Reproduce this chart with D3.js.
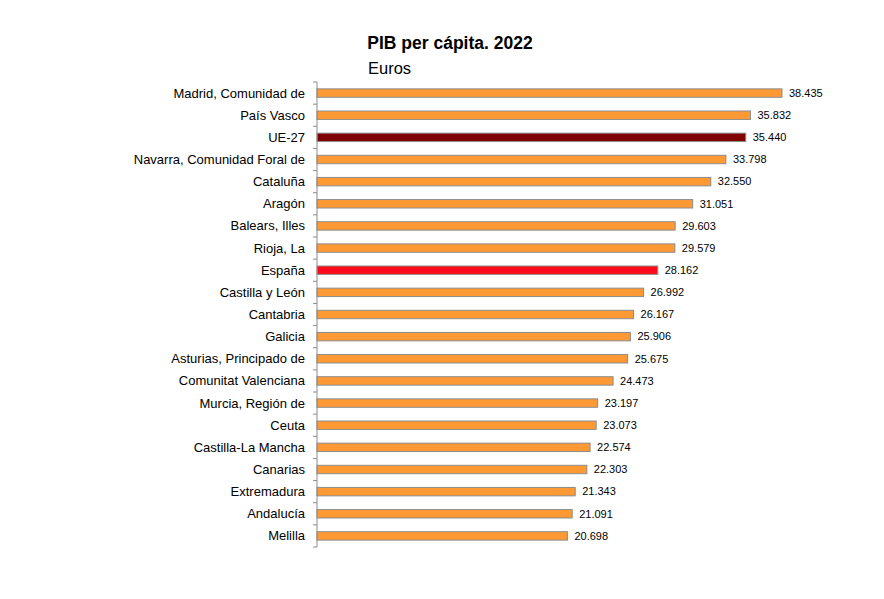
<!DOCTYPE html>
<html>
<head>
<meta charset="utf-8">
<script src="https://cdn.jsdelivr.net/npm/d3@7"></script>
<style>
  body { margin: 0; background: #fff; }
  text { font-family: "Liberation Sans", Arial, sans-serif; fill: #000; }
</style>
</head>
<body>
<div id="chart"></div>
<script>
// data
const regions = ["Madrid, Comunidad de", "País Vasco", "UE-27", "Navarra, Comunidad Foral de", "Cataluña",
  "Aragón", "Balears, Illes", "Rioja, La", "España", "Castilla y León", "Cantabria", "Galicia",
  "Asturias, Principado de", "Comunitat Valenciana", "Murcia, Región de", "Ceuta", "Castilla-La Mancha",
  "Canarias", "Extremadura", "Andalucía", "Melilla"];
const pib = [38435, 35832, 35440, 33798, 32550, 31051, 29603, 29579, 28162, 26992, 26167, 25906,
  25675, 24473, 23197, 23073, 22574, 22303, 21343, 21091, 20698];

const W = 884, H = 599;
const margin = { top: 82, left: 317, right: 102, bottom: 52 };

const svg = d3.select("#chart").append("svg")
  .attr("width", W)
  .attr("height", H);

const x = d3.scaleLinear()
  .domain([0, d3.max(pib)])
  .range([margin.left, W - margin.right]);

const y = d3.scaleBand()
  .domain(regions)
  .range([margin.top, H - margin.bottom])
  .paddingInner(0.62)
  .paddingOuter(0.31);

const fillFor = d => d === "UE-27" ? "#800000" : d === "España" ? "#ff0a1a" : "#ff9933";

// bars
svg.selectAll(".bar")
  .data(regions)
  .enter().append("rect")
  .attr("class", "bar")
  .attr("x", x(0))
  .attr("y", d => y(d))
  .attr("width", (d, i) => x(pib[i]) - x(0))
  .attr("height", y.bandwidth())
  .attr("fill", fillFor)
  .attr("stroke", "#8c8c8c")
  .attr("stroke-width", 1);

// value labels
const fmt = v => d3.format(",")(v).replace(/,/g, ".");
svg.selectAll(".val")
  .data(regions)
  .enter().append("text")
  .attr("class", "val")
  .attr("x", (d, i) => x(pib[i]) + 7)
  .attr("y", d => y(d) + y.bandwidth() / 2)
  .attr("dy", "0.35em")
  .style("font-size", "11px")
  .text((d, i) => fmt(pib[i]));

// category axis: line plus ticks between categories
const step = y.step();
const bounds = d3.range(regions.length + 1).map(i => margin.top + i * step);
svg.append("line")
  .attr("x1", x(0)).attr("x2", x(0))
  .attr("y1", margin.top).attr("y2", H - margin.bottom)
  .attr("stroke", "#8c8c8c");
svg.selectAll(".tick")
  .data(bounds)
  .enter().append("line")
  .attr("x1", x(0) - 4).attr("x2", x(0))
  .attr("y1", d => d).attr("y2", d => d)
  .attr("stroke", "#8c8c8c");

svg.selectAll(".cat")
  .data(regions)
  .enter().append("text")
  .attr("class", "cat")
  .attr("x", x(0) - 12)
  .attr("y", d => y(d) + y.bandwidth() / 2)
  .attr("dy", "0.35em")
  .attr("text-anchor", "end")
  .style("font-size", "13px")
  .text(d => d);

// titles
svg.append("text")
  .attr("x", 450)
  .attr("y", 49)
  .attr("text-anchor", "middle")
  .style("font-size", "17.5px")
  .style("font-weight", "bold")
  .text("PIB per cápita. 2022");

svg.append("text")
  .attr("x", 368)
  .attr("y", 74)
  .style("font-size", "16.5px")
  .text("Euros");
</script>
</body>
</html>
